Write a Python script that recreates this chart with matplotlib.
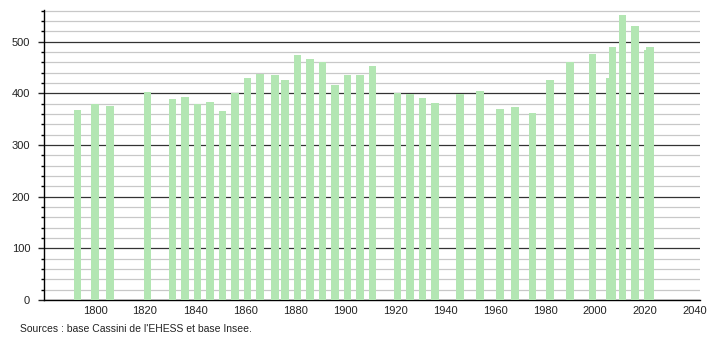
import matplotlib.pyplot as plt
from matplotlib.ticker import MultipleLocator

plt.rcParams['font.family'] = ['Liberation Sans', 'DejaVu Sans']

# census years and population
years = [1793, 1800, 1806, 1821, 1831, 1836, 1841, 1846, 1851, 1856,
         1861, 1866, 1872, 1876, 1881, 1886, 1891, 1896, 1901, 1906,
         1911, 1921, 1926, 1931, 1936, 1946, 1954, 1962, 1968, 1975,
         1982, 1990, 1999, 2006, 2007, 2011, 2016, 2021, 2022]
population = [368, 379, 375, 402, 389, 393, 379, 383, 366, 400,
              429, 438, 435, 426, 474, 466, 460, 416, 435, 436,
              453, 400, 399, 391, 381, 399, 404, 370, 374, 362,
              426, 460, 476, 429, 489, 551, 530, 483, 489]
x_ticks = [1800, 1820, 1840, 1860, 1880, 1900, 1920, 1940, 1960, 1980, 2000, 2020, 2040]
source = "Sources : base Cassini de l'EHESS et base Insee."

fig = plt.figure(figsize=(7.1, 3.4), dpi=100)
ax = fig.add_axes([0.062, 0.1176, 0.924, 0.853])

ax.bar(years, population, width=3.1, color='#b3e6b3', zorder=3)

ax.set_xlim(1779.6, 2042)
ax.set_ylim(0, 561)
ax.set_xticks(x_ticks)
ax.yaxis.set_major_locator(MultipleLocator(100))
ax.yaxis.set_minor_locator(MultipleLocator(20))

ax.grid(axis='y', which='minor', color='#c8c8c8', linewidth=0.9, zorder=1)
ax.grid(axis='y', which='major', color='#333333', linewidth=0.9, zorder=2)

for s in ['top', 'right']:
    ax.spines[s].set_visible(False)
ax.spines['left'].set_linewidth(1.0)
ax.spines['bottom'].set_linewidth(1.0)

ax.tick_params(axis='x', length=0, pad=4, labelsize=8, colors='#222222')
ax.tick_params(axis='y', which='major', length=4, width=1, pad=6, labelsize=8, colors='#222222')
ax.tick_params(axis='y', which='minor', length=2.2, width=1)

fig.text(0.028, 0.032, source, fontsize=7.5, color='#222222', va='center')

fig.savefig('out.png', dpi=100)
